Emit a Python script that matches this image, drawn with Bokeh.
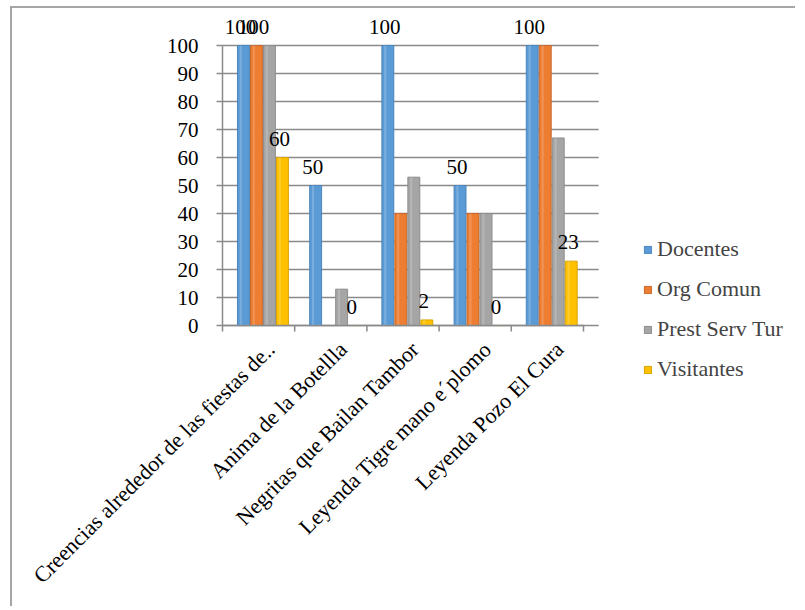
import math
from bokeh.plotting import figure
from bokeh.models import Range1d, Legend, LegendItem, ColumnDataSource
from bokeh.core.properties import value
from bokeh.embed import file_html
from bokeh.resources import INLINE

categories = ["Creencias alrededor de las fiestas de..", "Anima de la Botellla",
              "Negritas que Bailan Tambor", "Leyenda Tigre mano e\u00b4plomo",
              "Leyenda Pozo El Cura"]
series = ["Docentes", "Org Comun", "Prest Serv Tur", "Visitantes"]
docentes = [100, 50, 100, 50, 100]
org_comun = [100, 0, 40, 40, 100]
prest_serv_tur = [100, 13, 53, 40, 67]
visitantes = [60, 0, 2, 0, 23]
y_ticks = [0, 10, 20, 30, 40, 50, 60, 70, 80, 90, 100]
y_tick_labels = ["0", "10", "20", "30", "40", "50", "60", "70", "80", "90", "100"]
# which data labels are visible (per series)
show_docentes = [True, True, True, True, True]
show_org_comun = [True, False, False, False, False]
show_visitantes = [True, True, True, True, True]

colors = ["#5B9BD5", "#ED7D31", "#A5A5A5", "#FFC000"]
edges = ["#4A86BE", "#C9672A", "#8C8C8C", "#D9A300"]
offsets = [-0.21, -0.03, 0.15, 0.33]
bar_w = 0.165
values = [docentes, org_comun, prest_serv_tur, visitantes]
AXIS = "#8a8a8a"
FONT = "Liberation Serif"

n = len(categories)
x_end = 5.21            # category axis ends a bit right of the last category (3D depth)
px_x = 72.2             # pixels per category
px_y = 2.79             # pixels per value unit

p = figure(width=785, height=600, output_backend="svg", toolbar_location=None,
           x_range=Range1d(-2.9086, 7.964), y_range=Range1d(-101.08, 113.26),
           min_border=0)
p.styles = {"border-left": "2px solid #a6a6a6", "border-top": "2px solid #a6a6a6",
            "margin-left": "10px", "margin-top": "6px"}
p.outline_line_color = None
p.background_fill_color = "white"
p.border_fill_color = "white"
p.grid.visible = False
p.axis.visible = False

centers = [i + 0.5 for i in range(n)]
nt = len(y_ticks)

# horizontal grid lines (back wall), from the y tick values
p.segment(x0=[0] * nt, x1=[x_end] * nt, y0=y_ticks, y1=y_ticks,
          line_color=AXIS, line_width=1.5)

renderers = []
for k, (name, vals) in enumerate(zip(series, values)):
    xs = [c + offsets[k] for c in centers]
    src = ColumnDataSource(dict(x=xs, top=vals))
    r = p.vbar(x="x", top="top", width=bar_w, bottom=0, source=src,
               fill_color=colors[k], line_color=edges[k], line_width=1)
    renderers.append(r)
    # highlight strip to suggest a rounded 3D column
    p.vbar(x=[x - bar_w * 0.22 for x in xs], top=vals, width=bar_w * 0.18,
           fill_color="white", fill_alpha=0.18, line_color=None)

# value axis: line, ticks, labels
p.segment(x0=[0], x1=[0], y0=[y_ticks[0]], y1=[y_ticks[-1]], line_color=AXIS, line_width=1.5)
p.segment(x0=[0] * nt, x1=[-6 / px_x] * nt, y0=y_ticks, y1=y_ticks,
          line_color=AXIS, line_width=1.5)
p.text(x=[0] * nt, y=y_ticks, text=y_tick_labels, text_font=value(FONT),
       text_font_size="21px", text_align="right", text_baseline="middle",
       x_offset=-24, text_color="black")

# category axis line and boundary tick marks
bounds_x = [i for i in range(n + 1)]
p.segment(x0=[0], x1=[n], y0=[0], y1=[0], line_color=AXIS, line_width=1.5)
p.segment(x0=bounds_x, x1=bounds_x, y0=[0] * len(bounds_x),
          y1=[-6 / px_y] * len(bounds_x), line_color=AXIS, line_width=1.5)

# category labels, rotated 45 degrees
p.text(x=[c + 0.17 for c in centers], y=[0] * n, text=categories, angle=math.pi / 4,
       text_font=value(FONT), text_font_size="22px", text_align="right",
       text_baseline="middle", y_offset=20, text_color="black")

# data labels
def add_labels(k, vals, mask):
    xs = [c + offsets[k] for c, m in zip(centers, mask) if m]
    ys = [v for v, m in zip(vals, mask) if m]
    txt = [str(v) for v, m in zip(vals, mask) if m]
    p.text(x=xs, y=ys, text=txt, text_font=value(FONT), text_font_size="21px",
           text_align="center", text_baseline="bottom", x_offset=-3, y_offset=-12,
           text_color="black")

add_labels(0, docentes, show_docentes)
add_labels(1, org_comun, show_org_comun)
add_labels(3, visitantes, show_visitantes)

legend = Legend(items=[LegendItem(label=s, renderers=[r]) for s, r in zip(series, renderers)],
                location=(631, 226))
legend.label_text_font = FONT
legend.label_text_font_size = "22px"
legend.glyph_width = 9
legend.glyph_height = 9
legend.label_height = 24
legend.spacing = 14
legend.padding = 0
legend.margin = 0
legend.label_standoff = 5
legend.border_line_color = None
legend.background_fill_alpha = 0
p.add_layout(legend, "center")

open("out.html", "w").write(file_html(p, INLINE))
